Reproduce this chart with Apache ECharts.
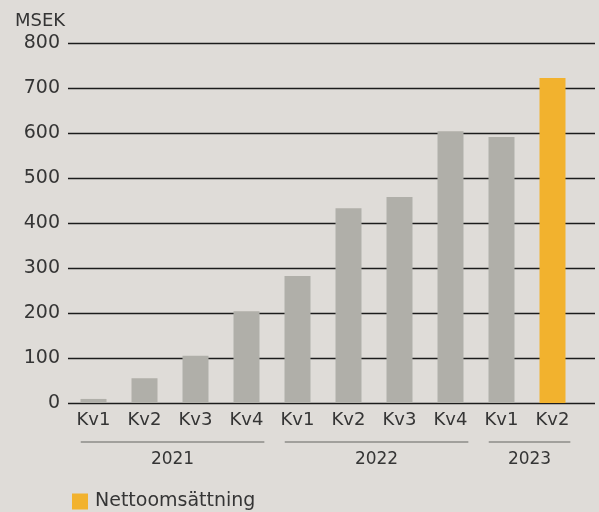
<!DOCTYPE html>
<html>
<head>
<meta charset="utf-8">
<script src="https://cdn.jsdelivr.net/npm/echarts@6/dist/echarts.min.js"></script>
<style>
  html, body { margin: 0; padding: 0; background: #dfdcd8; }
  #chart { width: 599px; height: 512px; }
</style>
</head>
<body>
<div id="chart"></div>
<script>
const categories = ["Kv1", "Kv2", "Kv3", "Kv4", "Kv1", "Kv2", "Kv3", "Kv4", "Kv1", "Kv2"];
const values = [9, 55, 105, 204, 282, 433, 458, 604, 591, 722];
const years = ["2021", "2022", "2023"];
// first and last category index of each year
const yearStart = [0, 4, 8];
const yearEnd = [3, 7, 9];
const yMin = 0, yMax = 800, yStep = 100;

const FONT = "DejaVu Sans";
const TXT = "#353535";
const GREY = "#b0afa9";
const YELLOW = "#f2b22e";

const chart = echarts.init(document.getElementById("chart"));

const option = {
  backgroundColor: "#dfdcd8",
  animation: false,
  title: {
    text: "MSEK",
    left: 10,
    top: 7,
    textStyle: { fontFamily: FONT, fontSize: 18, fontWeight: "normal", color: TXT }
  },
  legend: {
    left: 67,
    top: 487,
    itemWidth: 16,
    itemHeight: 16,
    icon: "rect",
    itemGap: 10,
    textStyle: { fontFamily: FONT, fontSize: 19, color: TXT, padding: [0, 0, 0, 2] },
    data: ["Nettoomsättning"]
  },
  grid: [
    { left: 68, right: 4, top: 43, height: 360 },
    { left: 68, right: 21, top: 43, height: 360 }
  ],
  xAxis: [
    { type: "value", gridIndex: 0, show: false, min: 0, max: 1 },
    {
      type: "category",
      gridIndex: 1,
      data: categories,
      axisLine: { show: false },
      axisTick: { show: false },
      axisLabel: { fontFamily: FONT, fontSize: 18, color: TXT, margin: 8 }
    }
  ],
  yAxis: [
    {
      type: "value",
      gridIndex: 0,
      min: yMin,
      max: yMax,
      interval: yStep,
      axisLine: { show: false },
      axisTick: { show: false },
      axisLabel: { fontFamily: FONT, fontSize: 19, color: TXT, margin: 8 },
      splitLine: { lineStyle: { color: "#1c1c1c", width: 1.3 } }
    },
    {
      type: "value",
      gridIndex: 1,
      min: yMin,
      max: yMax,
      interval: yStep,
      show: false,
      splitLine: { show: false }
    }
  ],
  series: [
    {
      name: "Nettoomsättning",
      type: "bar",
      xAxisIndex: 1,
      yAxisIndex: 1,
      barWidth: 26,
      itemStyle: { color: YELLOW },
      data: values.map((v, i) => ({
        value: v,
        itemStyle: { color: i === values.length - 1 ? YELLOW : GREY }
      }))
    }
  ]
};

chart.setOption(option);

// year group labels under the quarters, placed through the category axis
const cx = (i) => chart.convertToPixel({ xAxisIndex: 1 }, i);
const band = cx(1) - cx(0);
const graphics = [];
years.forEach((y, k) => {
  const x1 = cx(yearStart[k]) - 0.25 * band;
  const x2 = cx(yearEnd[k]) + 0.35 * band;
  graphics.push({
    type: "line",
    shape: { x1: x1, y1: 442, x2: x2, y2: 442 },
    style: { stroke: "#8d8c88", lineWidth: 1.5 }
  });
  graphics.push({
    type: "text",
    x: (x1 + x2) / 2,
    y: 460,
    style: {
      text: y,
      fontFamily: FONT,
      fontSize: 17,
      fill: TXT,
      align: "center",
      verticalAlign: "middle"
    }
  });
});
chart.setOption({ graphic: graphics });
</script>
</body>
</html>
